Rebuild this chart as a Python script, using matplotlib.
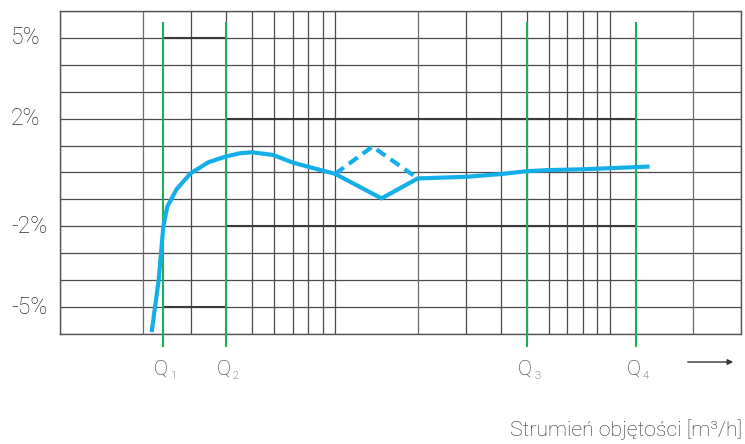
import matplotlib
matplotlib.use("Agg")
import matplotlib.pyplot as plt
import numpy as np

# ---- data ----
y_tick_values = [5, 2, -2, -5]
y_tick_labels = ["5%", "2%", "-2%", "-5%"]

q_names = ["1", "2", "3", "4"]
q_values = [2.37, 4.0, 50.0, 124.5]

# main error curve (solid)
curve_x = [2.15, 2.28, 2.37, 2.45, 2.65, 2.98, 3.46, 3.99, 4.49, 4.98, 5.95, 7.01, 7.93, 10.0,
           14.75, 20.0, 30.0, 40.0, 50.0, 60.0, 80.0, 100.0, 124.3, 139.4]
curve_y = [-5.92, -3.99, -2.01, -1.27, -0.62, -0.03, 0.38, 0.59, 0.71, 0.75, 0.65, 0.37, 0.22, -0.05,
           -0.96, -0.22, -0.16, -0.06, 0.05, 0.09, 0.12, 0.16, 0.20, 0.22]

# alternative branch (dashed)
dash_x = [10.0, 13.68, 20.0]
dash_y = [-0.05, 0.96, -0.22]

# tolerance limits: (x_start, x_end, y)
tol_x0 = [2.37, 2.37, 4.0, 4.0]
tol_x1 = [4.0, 4.0, 124.5, 124.5]
tol_y = [5, -5, 2, -2]

x_label = "Strumień objętości [m³/h]"

# ---- figure ----
W, H = 745, 444
fig = plt.figure(figsize=(W / 100, H / 100), dpi=100)
left, right, top, bottom = 60.3, 741, 10.7, 334.3
ax = fig.add_axes([left / W, 1 - bottom / H, (right - left) / W, (bottom - top) / H])
ax.set_xscale("log")
ax.set_xlim(1, 300)
ax.set_ylim(-6, 6)

FONT = "Roboto"
TXT = "#2e2e2e"

# grid
grid_col = "#4a4a4a"
for yv in range(-6, 7):
    ax.axhline(yv, color=grid_col, lw=0.9, zorder=1)
xs_grid = [m * 10 ** d for d in range(0, 3) for m in range(1, 10) if m * 10 ** d <= 300]
for xv in xs_grid:
    ax.axvline(xv, color=grid_col if xv not in (2, 20, 200) else "#6a6a6a", lw=0.9, zorder=1)

for s in ax.spines.values():
    s.set_color("#555555")
    s.set_linewidth(1.0)
ax.set_xticks([])
ax.set_yticks([])
ax.minorticks_off()
ax.tick_params(which="both", length=0)

# tolerance lines
for x0, x1, yv in zip(tol_x0, tol_x1, tol_y):
    ax.plot([x0, x1], [yv, yv], color="#3a3a3a", lw=1.5, zorder=2, solid_capstyle="butt")

# green Q lines
for q in q_values:
    ax.plot([q, q], [5.54, -6.43], color="#1fae55", lw=1.5, zorder=3, clip_on=False)

# curves
ax.plot(curve_x, curve_y, color="#14aee8", lw=3, zorder=4, solid_joinstyle="round",
        solid_capstyle="butt")
ax.plot(dash_x, dash_y, color="#14aee8", lw=3, zorder=4, dashes=(2.6, 1.5))

# y labels
for yv, lab in zip(y_tick_values, y_tick_labels):
    ax.annotate(lab, xy=(0, yv), xycoords=("axes fraction", "data"),
                xytext=(11 - left, 0), textcoords="offset pixels",
                ha="left", va="center", fontsize=16.5, color=TXT, family=FONT,
                fontweight="light", annotation_clip=False)

# Q labels
for q, n in zip(q_values, q_names):
    ax.annotate("Q", xy=(q, 0), xycoords=("data", "axes fraction"),
                xytext=(-2.5, -(375 - bottom)), textcoords="offset pixels",
                ha="center", va="baseline", fontsize=15, color=TXT, family=FONT,
                fontweight="light", annotation_clip=False)
    ax.annotate(n, xy=(q, 0), xycoords=("data", "axes fraction"),
                xytext=(7, -(379 - bottom)), textcoords="offset pixels",
                ha="left", va="baseline", fontsize=8, color=TXT, family=FONT,
                fontweight="light", annotation_clip=False)

# arrow
fig.patches.append(matplotlib.patches.FancyArrowPatch(
    (685 / W, 1 - 362 / H), (736 / W, 1 - 362 / H), transform=fig.transFigure,
    arrowstyle="-|>", mutation_scale=8, color="#333333", lw=1.0))

# x label
fig.text(742 / W, 1 - 436 / H, x_label, ha="right", va="baseline",
         fontsize=15.3, color=TXT, family=FONT, fontweight="light")

fig.savefig("out.png", dpi=100)
